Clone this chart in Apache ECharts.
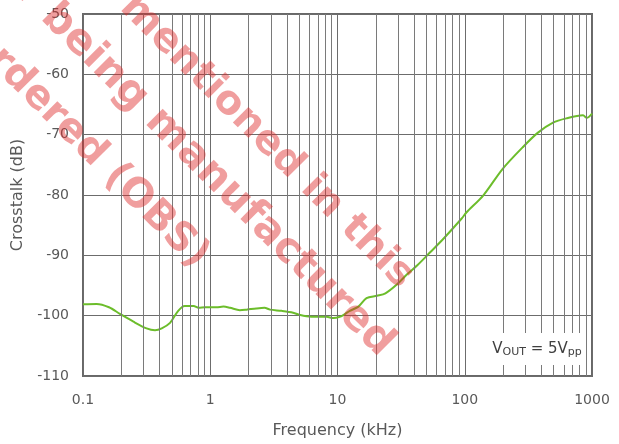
<!DOCTYPE html>
<html>
<head>
<meta charset="utf-8">
<script src="https://cdn.jsdelivr.net/npm/echarts@6/dist/echarts.min.js"></script>
<style>
html,body{margin:0;padding:0;background:#fff;}
#chart{width:619px;height:444px;}
</style>
</head>
<body>
<div id="chart"></div>
<script>
// ---- data ----
const freqKHz = [0.1, 0.128, 0.16, 0.195, 0.249, 0.316, 0.368, 0.416, 0.483, 0.56, 0.63, 0.74, 0.81, 0.91, 1.12, 1.27, 1.43, 1.71, 1.93, 2.3, 2.67, 2.95, 3.63, 4.48, 5.1, 5.7, 6.8, 8.2, 9.3, 10.4, 11.1, 12.5, 14.6, 16.9, 20.4, 23.8, 29.4, 35.4, 42.6, 53.5, 67.7, 94.6, 103, 140, 198, 285, 374, 494, 628, 850, 910, 1000];
const crosstalkDB = [-98.1, -98.05, -98.6, -99.7, -101.0, -102.1, -102.4, -102.1, -101.2, -99.2, -98.4, -98.4, -98.7, -98.6, -98.6, -98.5, -98.7, -99.1, -99.0, -98.8, -98.7, -99.0, -99.2, -99.5, -99.9, -100.1, -100.2, -100.2, -100.4, -100.2, -99.9, -99.2, -98.5, -97.1, -96.7, -96.3, -94.8, -93.1, -91.6, -89.5, -87.3, -83.9, -82.9, -80.05, -75.7, -72.1, -69.7, -68.0, -67.3, -66.8, -67.2, -66.5];
const xTickLabels = ['0.1', '1', '10', '100', '1000'];
const yTickLabels = ['-110', '-100', '-90', '-80', '-70', '-60', '-50'];
const xAxisTitle = 'Frequency (kHz)';
const yAxisTitle = 'Crosstalk (dB)';
const watermarkLines = [
  'The product being mentioned in this',
  'document is no longer being manufactured',
  'and cannot be ordered (OBS)'
];

// minor vertical grid lines (2..9 per decade)
const minorGrid = [];
for (let d = -1; d < 3; d++) {
  for (let m = 2; m <= 9; m++) minorGrid.push(+(m * Math.pow(10, d)).toPrecision(3));
}

const chart = echarts.init(document.getElementById('chart'), null, {renderer: 'canvas'});
const labelFont = 'DejaVu Sans';
const wmFontSizes = [40, 42, 40];
const wmPos = [[407, 282], [387, 350], [202, 262]];

chart.setOption({
  animation: false,
  backgroundColor: '#ffffff',
  grid: {
    left: 83, right: 27, top: 14, bottom: 67,
    show: true, borderColor: '#686868', borderWidth: 2, backgroundColor: 'transparent'
  },
  xAxis: {
    type: 'log', logBase: 10, min: 0.1, max: 1000,
    name: xAxisTitle, nameLocation: 'middle', nameGap: 47,
    nameTextStyle: {color: '#595959', fontSize: 16, fontFamily: labelFont},
    axisLine: {show: false},
    axisTick: {show: false},
    axisLabel: {
      color: '#595959', fontSize: 14, fontFamily: labelFont, margin: 17,
      formatter: (v, i) => xTickLabels[i] !== undefined ? xTickLabels[i] : String(v)
    },
    splitLine: {show: true, lineStyle: {color: '#6c6c6c', width: 1}}
  },
  yAxis: {
    type: 'value', min: -110, max: -50, interval: 10,
    name: yAxisTitle, nameLocation: 'middle', nameGap: 57,
    nameTextStyle: {color: '#595959', fontSize: 16, fontFamily: labelFont},
    axisLine: {show: false},
    axisTick: {show: false},
    axisLabel: {
      color: '#595959', fontSize: 14, fontFamily: labelFont, margin: 14,
      formatter: (v, i) => yTickLabels[i] !== undefined ? yTickLabels[i] : String(v)
    },
    splitLine: {show: true, lineStyle: {color: '#6c6c6c', width: 1}}
  },
  series: [
    {
      type: 'line', z: 1, data: [], silent: true,
      markLine: {
        silent: true, symbol: 'none', animation: false,
        label: {show: false},
        lineStyle: {color: '#7a7a7a', width: 1, type: 'solid'},
        data: minorGrid.map(v => ({xAxis: v}))
      }
    },
    {
      type: 'line', z: 3,
      data: freqKHz.map((f, i) => [f, crosstalkDB[i]]),
      showSymbol: false, smooth: 0.3,
      lineStyle: {color: '#6cbd2b', width: 2},
      itemStyle: {color: '#6cbd2b'}
    }
  ],
  graphic: [
    {
      type: 'rect', z: 50,
      shape: {x: 490, y: 333, width: 96, height: 32},
      style: {fill: '#ffffff'}
    },
    {
      type: 'text', z: 51, x: 537, y: 349,
      style: {
        text: '{m|V}{s|OUT}{m| = 5V}{s|pp}',
        textAlign: 'center', textVerticalAlign: 'middle',
        rich: {
          m: {fontSize: 15, fontFamily: labelFont, fill: '#404040', color: '#404040'},
          s: {fontSize: 11, fontFamily: labelFont, fill: '#404040', color: '#404040', verticalAlign: 'bottom', padding: [6, 0, 0, 0]}
        }
      }
    }
  ].concat(watermarkLines.map((t, i) => ({
    type: 'text', z: 100, silent: true,
    x: wmPos[i][0], y: wmPos[i][1], rotation: -Math.PI / 4,
    style: {
      text: t,
      fill: 'rgba(222,40,40,0.45)',
      font: 'bold ' + wmFontSizes[i] + 'px "DejaVu Sans"',
      textAlign: 'right',
      textVerticalAlign: 'middle'
    }
  })))
});
</script>
</body>
</html>
